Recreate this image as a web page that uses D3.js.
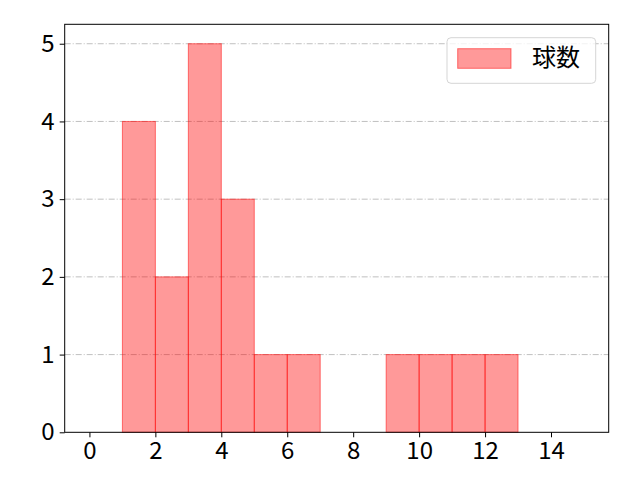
<!DOCTYPE html>
<html>
<head>
<meta charset="utf-8">
<script src="https://cdn.jsdelivr.net/npm/d3@7"></script>
<style>
body{margin:0;background:#fff}
text{font-family:"Noto Sans CJK JP","DejaVu Sans",sans-serif}
</style>
</head>
<body>
<div id="graph"></div>
<script>
"use strict"
// histogram bins (left edge, right edge) and counts
var binStart=[1,2,3,4,5,6,9,10,11,12]
var binEnd=[2,3,4,5,6,7,10,11,12,13]
var counts=[4,2,5,3,1,1,1,1,1,1]
var xTicks=[0,2,4,6,8,10,12,14]
var yTicks=[0,1,2,3,4,5]
var seriesName='球数'

function draw(){
  var W=640,H=480
  var left=64.7,right=608.7,top=24.3,bottom=432.3
  var svg=d3.select('#graph').append('svg').attr('width',W).attr('height',H)
  var x=d3.scaleLinear().domain([-0.75,15.75]).range([left,right])
  var y=d3.scaleLinear().domain([0,5.25]).range([bottom,top])

  // grid
  svg.append('g').selectAll('line').data(yTicks.slice(1)).enter().append('line')
    .attr('x1',left).attr('x2',right)
    .attr('y1',function(d){return y(d)}).attr('y2',function(d){return y(d)})
    .attr('stroke','#b0b0b0').attr('stroke-width',0.8).attr('stroke-dasharray','6,2,1,2')

  // bars
  svg.append('g').selectAll('rect').data(counts).enter().append('rect')
    .attr('x',function(d,i){return x(binStart[i])})
    .attr('width',function(d,i){return x(binEnd[i])-x(binStart[i])})
    .attr('y',function(d){return y(d)})
    .attr('height',function(d){return y(0)-y(d)})
    .attr('fill','rgba(255,0,0,0.4)')
    .attr('stroke','rgba(255,0,0,0.5)').attr('stroke-width',1)

  // axes
  var gx=svg.append('g').attr('transform','translate(0,'+bottom+')')
    .call(d3.axisBottom(x).tickValues(xTicks).tickSize(5).tickPadding(5).tickFormat(d3.format('d')))
  var gy=svg.append('g').attr('transform','translate('+left+',0)')
    .call(d3.axisLeft(y).tickValues(yTicks).tickSize(5).tickPadding(5).tickFormat(d3.format('d')))
  gx.select('.domain').remove()
  gy.select('.domain').remove()
  svg.selectAll('.tick text').attr('font-size',24).attr('fill','#000').attr('font-family','"Noto Sans CJK JP",sans-serif')
  svg.selectAll('.tick line').attr('stroke','#000').attr('stroke-width',1)

  // frame
  svg.append('rect').attr('x',left).attr('y',top).attr('width',right-left).attr('height',bottom-top)
    .attr('fill','none').attr('stroke','#000').attr('stroke-width',1)

  // legend
  var lg=svg.append('g')
  lg.append('rect').attr('x',447).attr('y',37.7).attr('width',148.7).attr('height',45.6)
    .attr('rx',4).attr('fill','rgba(255,255,255,0.8)').attr('stroke','#d5d5d5').attr('stroke-width',1)
  lg.append('rect').attr('x',457.7).attr('y',48.7).attr('width',53.3).attr('height',19.6)
    .attr('fill','rgba(255,0,0,0.4)').attr('stroke','rgba(255,0,0,0.5)').attr('stroke-width',1)
  lg.append('text').attr('x',532).attr('y',66).attr('font-size',24).attr('fill','#000').text(seriesName)
}
draw()
</script>
</body>
</html>
